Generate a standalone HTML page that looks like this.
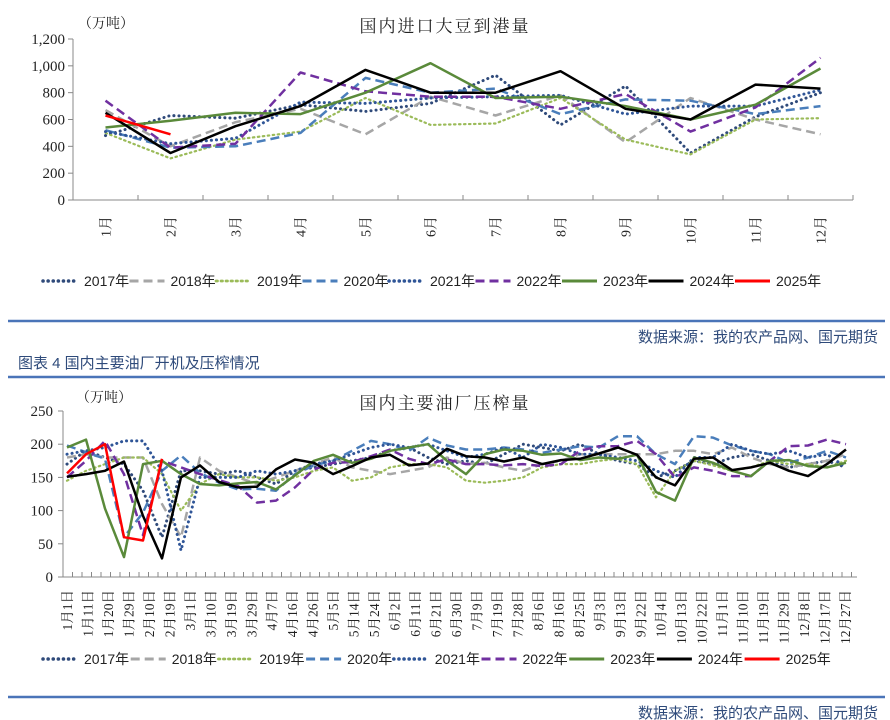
<!DOCTYPE html>
<html><head><meta charset="utf-8"><style>
html,body{margin:0;padding:0;background:#fff}
svg{display:block}
.serif{font-family:"Liberation Serif","Noto Serif CJK SC",serif}
.sans{font-family:"Liberation Sans","Noto Sans CJK SC",sans-serif}
</style></head><body>
<svg id="root" width="890" height="720" viewBox="0 0 890 720" xmlns="http://www.w3.org/2000/svg">
<rect x="0" y="0" width="890" height="720" fill="#fff"/>
<g id="chart1">
<text x="445" y="32" text-anchor="middle" class="serif" font-size="17" letter-spacing="2" fill="#222">国内进口大豆到港量</text>
<text x="78" y="28" class="serif" font-size="14" fill="#222">（万吨）</text>
</g>
<g id="chart2">
<text x="445" y="409" text-anchor="middle" class="serif" font-size="17" letter-spacing="2" fill="#222">国内主要油厂压榨量</text>
<text x="76" y="402" class="serif" font-size="14" fill="#222">（万吨）</text>
</g>
<line x1="8" y1="321" x2="885" y2="321" stroke="#4a74b8" stroke-width="2.5"/>
<text x="878" y="342" text-anchor="end" class="sans" font-size="15" fill="#2e4a7a">数据来源：我的农产品网、国元期货</text>
<text x="18" y="368" class="sans" font-size="15" fill="#2e4a7a">图表 4  国内主要油厂开机及压榨情况</text>
<line x1="8" y1="377" x2="885" y2="377" stroke="#4a74b8" stroke-width="2.5"/>
<line x1="8" y1="697" x2="885" y2="697" stroke="#4a74b8" stroke-width="2.5"/>
<text x="878" y="718" text-anchor="end" class="sans" font-size="15" fill="#2e4a7a">数据来源：我的农产品网、国元期货</text>
</svg>
<script>
const years = ["2017年","2018年","2019年","2020年","2021年","2022年","2023年","2024年","2025年"];
// chart 1 data
const months = ["1月","2月","3月","4月","5月","6月","7月","8月","9月","10月","11月","12月"];
const c1Ticks = [0,200,400,600,800,1000,1200];
const c1Labels = ["0","200","400","600","800","1,000","1,200"];
const a2017 = [480,630,610,710,660,720,930,560,850,350,620,800];
const a2018 = [670,400,580,680,490,770,630,780,430,760,600,490];
const a2019 = [500,310,450,510,760,560,570,760,450,340,600,610];
const a2020 = [520,390,400,500,910,800,830,640,750,740,640,700];
const a2021 = [510,420,460,730,720,760,770,780,640,700,700,820];
const a2022 = [740,390,420,950,810,770,770,680,790,510,690,1060];
const a2023 = [540,590,650,640,800,1020,760,770,700,600,710,980];
const a2024 = [650,350,550,700,970,800,800,960,680,600,860,830];
const a2025 = [630,490];
// chart 2 data
const dates = ["1月1日","1月11日","1月20日","1月29日","2月10日","2月19日","3月1日","3月10日","3月19日","3月29日","4月7日","4月16日","4月26日","5月5日","5月14日","5月24日","6月2日","6月11日","6月21日","6月30日","7月9日","7月19日","7月28日","8月6日","8月16日","8月25日","9月3日","9月13日","9月22日","10月4日","10月13日","10月22日","11月1日","11月10日","11月19日","11月29日","12月8日","12月17日","12月27日"];
const c2Ticks = [0,50,100,150,200,250];
const b2017 = [170,190,180,170,130,60,160,160,155,160,150,140,160,165,170,175,180,190,195,180,170,175,170,185,200,195,190,200,185,175,170,150,160,175,170,180,185,175,165,170,175,165];
const b2018 = [180,185,180,180,180,110,60,180,160,150,140,150,160,170,180,165,160,155,160,165,180,170,172,165,160,170,175,185,185,185,185,185,190,190,185,195,180,170,165,170,175,185];
const b2019 = [145,160,170,180,180,155,100,140,155,150,150,145,150,160,165,145,150,165,170,170,165,145,142,145,150,165,170,170,175,178,170,120,160,175,168,160,165,175,170,170,165,175];
const b2020 = [198,188,178,60,97,160,183,157,142,132,133,130,155,168,175,190,205,200,190,210,198,192,192,195,192,187,192,197,195,212,212,185,170,212,210,198,190,185,172,180,190,180];
const b2021 = [185,190,195,205,205,160,40,150,150,150,160,155,160,170,175,185,195,200,195,200,190,180,185,195,180,200,195,185,185,180,175,160,150,180,180,200,190,185,190,180,185,165];
const b2022 = [150,175,205,155,63,175,165,155,146,137,112,115,135,162,172,173,182,192,178,170,177,170,170,168,170,167,170,190,197,197,205,185,150,165,160,152,152,175,197,198,207,200];
const b2023 = [195,207,103,30,170,175,155,140,138,141,143,132,153,175,184,172,178,190,195,200,175,155,185,192,190,184,186,176,180,178,184,128,115,180,172,160,152,175,176,167,165,172];
const b2024 = [151,155,160,174,92,28,150,168,143,135,136,162,177,172,155,167,180,184,168,171,193,182,180,174,180,170,176,178,186,195,184,150,138,178,180,161,165,172,160,152,170,192];
const b2025 = [156,185,200,60,55,178];

const NS = "http://www.w3.org/2000/svg";
const g1 = document.getElementById('chart1');
const g2 = document.getElementById('chart2');
function mk(tag, attrs, parent){
  const e = document.createElementNS(NS, tag);
  for (const k in attrs) e.setAttribute(k, attrs[k]);
  parent.appendChild(e);
  return e;
}
const styles = [
  {c:"#2f4a7a", w:3, d:"0.1 5", cap:"round"},
  {c:"#a6a6a6", w:2.5, d:"9 5", cap:"butt"},
  {c:"#9bbb59", w:2.2, d:"1.5 3.5", cap:"round"},
  {c:"#4a7ebb", w:2.5, d:"9 5", cap:"butt"},
  {c:"#2f5597", w:3, d:"0.1 5", cap:"round"},
  {c:"#7030a0", w:2.5, d:"9 5", cap:"butt"},
  {c:"#5a8a3a", w:2.5, d:"", cap:"butt"},
  {c:"#000000", w:2.5, d:"", cap:"butt"},
  {c:"#ff0000", w:2.5, d:"", cap:"butt"}
];

// Chart 1
const x1L = 73, x1R = 853, y1B = 200, y1T = 39;
const band1 = (x1R - x1L) / months.length;
function xs1(i){ return x1L + band1 * (i + 0.5); }
function ys1(v){ return y1B - (v / 1200) * (y1B - y1T); }
const ax1 = mk('g', {}, g1);


const yl1 = mk('line', {x1:x1L, y1:y1T, x2:x1L, y2:y1B, stroke:"#888"}, ax1);


const xl1 = mk('line', {x1:x1L, y1:y1B, x2:x1R, y2:y1B, stroke:"#888"}, ax1);


c1Ticks.forEach((v, i) => {
  const y = ys1(v);
  mk('line', {x1:x1L - 5, y1:y, x2:x1L, y2:y, stroke:"#888"}, ax1);
  const t = mk('text', {x:x1L - 8, y:y + 5, 'text-anchor':'end', class:'serif', 'font-size':15, fill:'#222'}, ax1);
  t.textContent = c1Labels[i];
  
  
});
for (let i = 1; i <= months.length; i++){
  const x = x1L + band1 * i;
  mk('line', {x1:x, y1:y1B - 5, x2:x, y2:y1B, stroke:"#888"}, ax1);
}
months.forEach((m, i) => {
  const x = xs1(i);
  const t = mk('text', {x:0, y:0, transform:`translate(${x + 5},216) rotate(-90)`, 'text-anchor':'end', class:'serif', 'font-size':14, fill:'#222'}, ax1);
  t.textContent = m;
  
  
});
const series1 = [a2017,a2018,a2019,a2020,a2021,a2022,a2023,a2024,a2025];
series1.forEach((arr, s) => {
  const st = styles[s];
  const pts = arr.map((v, i) => xs1(i).toFixed(1) + "," + ys1(v).toFixed(1)).join(" ");
  const p = mk('polyline', {points:pts, fill:'none', stroke:st.c, 'stroke-width':st.w, 'stroke-dasharray':st.d, 'stroke-linecap':st.cap, 'stroke-linejoin':'round'}, g1);
  
  
});

// Chart 2
const x2L = 63, x2R = 857, y2B = 577, y2T = 411;
const nPts = b2017.length;
const step2 = 779 / (nPts - 1);
function xs2(i){ return 67 + step2 * i; }
function ys2(v){ return y2B - (v / 250) * (y2B - y2T); }
const ax2 = mk('g', {}, g2);


const yl2 = mk('line', {x1:x2L, y1:y2T, x2:x2L, y2:y2B, stroke:"#888"}, ax2);


const xl2 = mk('line', {x1:x2L, y1:y2B, x2:x2R, y2:y2B, stroke:"#888"}, ax2);


c2Ticks.forEach(v => {
  const y = ys2(v);
  mk('line', {x1:x2L - 5, y1:y, x2:x2L, y2:y, stroke:"#888"}, ax2);
  const t = mk('text', {x:x2L - 10, y:y + 5, 'text-anchor':'end', class:'serif', 'font-size':15, fill:'#222'}, ax2);
  t.textContent = String(v);
  
  
});
for (let x = x2L + 9.5; x <= x2R + 0.5; x += 9.5){
  mk('line', {x1:x, y1:y2B - 5, x2:x, y2:y2B, stroke:"#888"}, ax2);
}
const labelStep = (845 - 67) / (dates.length - 1);
dates.forEach((d, i) => {
  const x = 67 + labelStep * i;
  const t = mk('text', {x:0, y:0, transform:`translate(${x + 5},590) rotate(-90)`, 'text-anchor':'end', class:'serif', 'font-size':13.5, fill:'#222'}, ax2);
  t.textContent = d;
  
  
});
const series2 = [b2017,b2018,b2019,b2020,b2021,b2022,b2023,b2024,b2025];
series2.forEach((arr, s) => {
  const st = styles[s];
  const pts = arr.map((v, i) => xs2(i).toFixed(1) + "," + ys2(v).toFixed(1)).join(" ");
  const p = mk('polyline', {points:pts, fill:'none', stroke:st.c, 'stroke-width':st.w, 'stroke-dasharray':st.d, 'stroke-linecap':st.cap, 'stroke-linejoin':'round'}, g2);
  
  
});

// Legends
function legend(parent, y, x0, stepX, prefix){
  years.forEach((yr, k) => {
    const st = styles[k];
    const sx = x0 + stepX * k;
    const item = mk('g', {}, parent);
    
    
    mk('line', {x1:sx, y1:y - 5, x2:sx + 35, y2:y - 5, stroke:st.c, 'stroke-width':st.w + 0.5, 'stroke-dasharray':st.d, 'stroke-linecap':st.cap}, item);
    const t = mk('text', {x:sx + 41, y:y, class:'sans', 'font-size':14, fill:'#222'}, item);
    t.textContent = yr;
  });
}
legend(g1, 286, 43, 86.5, 'chart1');
legend(g2, 664, 43, 87.7, 'chart2');
</script>
</body></html>
